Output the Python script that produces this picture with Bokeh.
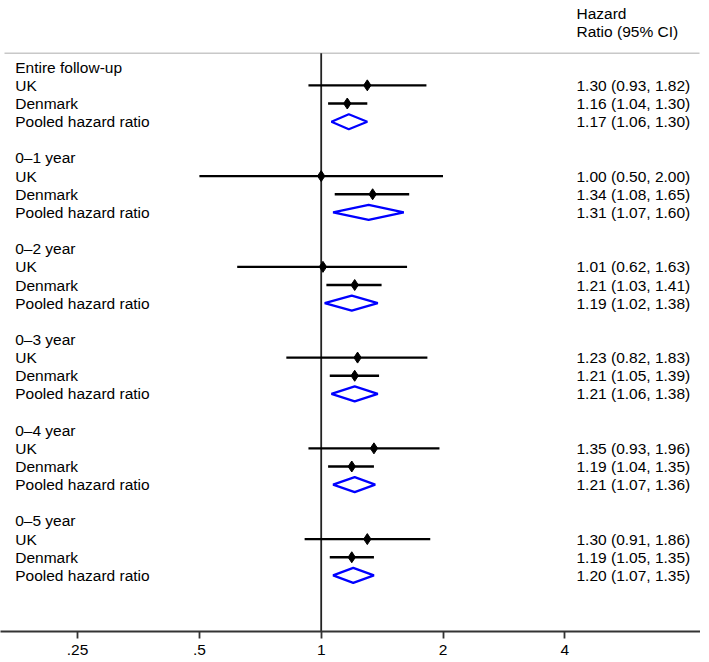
import math
from bokeh.plotting import figure
from bokeh.models import Range1d, FixedTicker, CustomJSTickFormatter
from bokeh.core.properties import value
from bokeh.embed import file_html
from bokeh.resources import INLINE

# ---------------- data ----------------
groups = ["Entire follow-up", "0\u20131 year", "0\u20132 year", "0\u20133 year", "0\u20134 year", "0\u20135 year"]
row_labels = ["UK", "Denmark", "Pooled hazard ratio"]
uk_hr = [1.30, 1.00, 1.01, 1.23, 1.35, 1.30]
uk_lo = [0.93, 0.50, 0.62, 0.82, 0.93, 0.91]
uk_hi = [1.82, 2.00, 1.63, 1.83, 1.96, 1.86]
dk_hr = [1.16, 1.34, 1.21, 1.21, 1.19, 1.19]
dk_lo = [1.04, 1.08, 1.03, 1.05, 1.04, 1.05]
dk_hi = [1.30, 1.65, 1.41, 1.39, 1.35, 1.35]
pooled_hr = [1.17, 1.31, 1.19, 1.21, 1.21, 1.20]
pooled_lo = [1.06, 1.07, 1.02, 1.06, 1.07, 1.07]
pooled_hi = [1.30, 1.60, 1.38, 1.38, 1.36, 1.35]
tick_values = [0.25, 0.5, 1, 2, 4]
tick_labels = [".25", ".5", "1", "2", "4"]
header_lines = ["Hazard", "Ratio (95% CI)"]

# ---------------- layout ----------------
W, H = 700, 662
PX_PER_DOUBLING = 121.8
X_ONE = 320.7              # pixel of HR=1 inside frame
ROW0 = 66.7                # pixel of row 0 inside frame
ROW_H = 18.15
AXIS_H = 31
FRAME_H = H - AXIS_H

def px_to_x(px):
    return 2 ** ((px - X_ONE) / PX_PER_DOUBLING)

def py_to_r(py):
    return (py - ROW0) / ROW_H

x_lo, x_hi = px_to_x(0), px_to_x(W)
r_top, r_bot = py_to_r(0), py_to_r(FRAME_H)

p = figure(width=W, height=H, x_axis_type="log", output_backend="svg",
           toolbar_location=None, x_range=Range1d(x_lo, x_hi),
           y_range=Range1d(r_bot, r_top), y_axis_location=None,
           min_border_left=0, min_border_right=0, min_border_top=0, min_border_bottom=AXIS_H)
p.outline_line_color = None
p.xgrid.visible = False
p.ygrid.visible = False
p.background_fill_color = "white"
p.border_fill_color = "white"

FONT = value("Liberation Sans")
FS = "15.5px"

# rows
lab_x, lab_y, lab_t = [], [], []
val_y, val_t = [], []
ci_x0, ci_x1, ci_y, pt_x, pt_y = [], [], [], [], []
dxs, dys = [], []
DH = 7.5 / ROW_H
for g, name in enumerate(groups):
    base = g * 5
    lab_x += [px_to_x(14.7)] * 4
    lab_y += [base, base + 1, base + 2, base + 3]
    lab_t += [name] + row_labels
    for k, (hr, lo, hi) in enumerate([(uk_hr[g], uk_lo[g], uk_hi[g]), (dk_hr[g], dk_lo[g], dk_hi[g])]):
        r = base + 1 + k
        ci_x0.append(lo); ci_x1.append(hi); ci_y.append(r)
        pt_x.append(hr); pt_y.append(r)
        val_y.append(r); val_t.append(f"{hr:.2f} ({lo:.2f}, {hi:.2f})")
    r = base + 3
    dxs.append([pooled_lo[g], pooled_hr[g], pooled_hi[g], pooled_hr[g]])
    dys.append([r, r - DH, r, r + DH])
    val_y.append(r); val_t.append(f"{pooled_hr[g]:.2f} ({pooled_lo[g]:.2f}, {pooled_hi[g]:.2f})")

# separator + reference line
sep_r = py_to_r(52.7)
p.segment(x0=[px_to_x(4)], x1=[px_to_x(699)], y0=[sep_r], y1=[sep_r], line_color="#c8c8c8", line_width=1.5)
p.segment(x0=[1], x1=[1], y0=[sep_r], y1=[r_bot], line_color="#222222", line_width=1.8)

p.segment(x0=ci_x0, x1=ci_x1, y0=ci_y, y1=ci_y, line_color="black", line_width=2.4)
p.scatter(pt_x, pt_y, marker="diamond", size=11, color="black")
p.patches(xs=dxs, ys=dys, fill_alpha=0, line_color="#0000ff", line_width=2.2)

p.text(x=lab_x, y=lab_y, text=lab_t, text_font=FONT, text_font_size=FS,
       text_baseline="middle", text_align="left", text_color="black")
vx = px_to_x(576)
p.text(x=[vx] * len(val_y), y=val_y, text=val_t, text_font=FONT, text_font_size=FS,
       text_baseline="middle", text_align="left", text_color="black")
p.text(x=[vx, vx], y=[py_to_r(13), py_to_r(30.5)], text=header_lines, text_font=FONT,
       text_font_size=FS, text_baseline="middle", text_align="left", text_color="black")

ax = p.xaxis[0]
ax.ticker = FixedTicker(ticks=tick_values)
ax.formatter = CustomJSTickFormatter(args=dict(tvals=tick_values, tlabs=tick_labels),
                                     code="const i = tvals.indexOf(tick); return i >= 0 ? tlabs[i] : '';")
ax.axis_line_color = "#333333"
ax.axis_line_width = 1.8
ax.major_tick_line_color = "#333333"
ax.major_tick_line_width = 1.8
ax.major_tick_in = 0
ax.major_tick_out = 7
ax.minor_tick_line_color = None
ax.major_label_text_font = "Liberation Sans"
ax.major_label_text_font_size = FS
ax.major_label_text_color = "black"
ax.major_label_standoff = 6

open("out.html", "w").write(file_html(p, INLINE))
